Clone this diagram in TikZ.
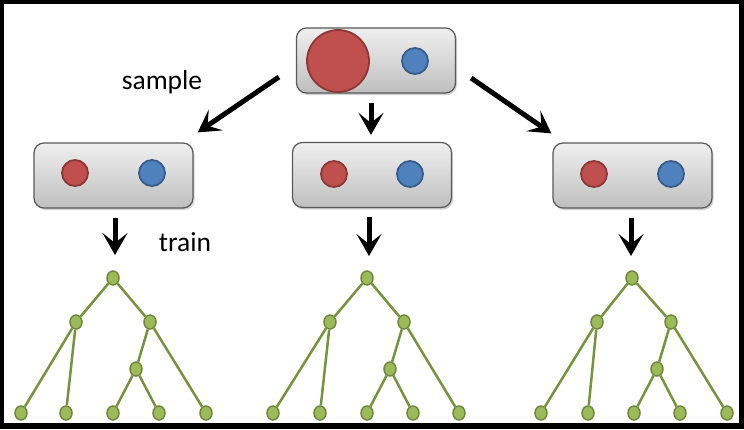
\documentclass[tikz,border=0pt]{standalone}
\usepackage{fontspec}
\setmainfont{Carlito}
\usepackage{tikz}
\usetikzlibrary{arrows.meta, shapes.geometric, shadows, calc}

\definecolor{redfill}{HTML}{C0504D}
\definecolor{redline}{HTML}{8C3836}
\definecolor{bluefill}{HTML}{4F81BD}
\definecolor{blueline}{HTML}{385D8A}
\definecolor{leaffill}{HTML}{9BBB59}
\definecolor{leafline}{HTML}{71893F}
\definecolor{branch}{HTML}{77933C}

\tikzset{
    setbox/.style={draw=black!65, line width=1.2pt, rounded corners=10pt,
        top color=black!6, bottom color=black!25,
        drop shadow={opacity=0.35, shadow xshift=1.5pt, shadow yshift=-2pt},
        minimum width=159pt, minimum height=65pt, inner sep=0pt},
    redball/.style={circle, fill=redfill, draw=redline, line width=1.8pt, minimum size=26pt, inner sep=0pt},
    blueball/.style={circle, fill=bluefill, draw=blueline, line width=1.8pt, minimum size=26pt, inner sep=0pt},
    bigarrow/.style={line width=5pt, -{Stealth[length=22pt, width=25pt, inset=10pt]}},
    leaf/.style={ellipse, fill=leaffill, draw=leafline, line width=1.5pt, minimum width=12pt, minimum height=14pt, inner sep=0pt},
    edge/.style={draw=branch, line width=2.5pt}
}

\begin{document}
\begin{tikzpicture}[x=1pt, y=-1pt]
    \useasboundingbox (0,0) rectangle (744,429);
    \fill[black] (0,0) rectangle (744,429);
    \fill[white] (4,4) rectangle (739,423);

    \fontsize{27.5}{33}\selectfont

    % the full set and its three samples
    \node[setbox] (top) at (376,60.5) {};
    \node[redball, minimum size=62pt] (topred) at (338,61) {};
    \node[blueball] (topblue) at (415,61) {};

    \node[setbox] (left) at (113.5,175.5) {};
    \node[redball] (leftred) at (75,173) {};
    \node[blueball] (leftblue) at (152,173) {};

    \node[setbox] (mid) at (372,175) {};
    \node[redball] (midred) at (334,174) {};
    \node[blueball] (midblue) at (410,174) {};

    \node[setbox] (right) at (632.5,175.5) {};
    \node[redball] (rightred) at (594,174) {};
    \node[blueball] (rightblue) at (671,174) {};

    \node[anchor=base] (sample) at (162,89) {sample};
    \node[anchor=base] (train) at (185,251) {train};

    % trees
    \node[leaf] (t1r) at (113,278) {};
    \node[leaf] (t1a) at (76,322) {};
    \node[leaf] (t1b) at (150,322) {};
    \node[leaf] (t1c) at (136,369) {};
    \node[leaf] (t1l1) at (21,413) {};
    \node[leaf] (t1l2) at (66,413) {};
    \node[leaf] (t1l3) at (113,413) {};
    \node[leaf] (t1l4) at (159,413) {};
    \node[leaf] (t1l5) at (206,413) {};

    \node[leaf] (t2r) at (367,278) {};
    \node[leaf] (t2a) at (330,322) {};
    \node[leaf] (t2b) at (404,322) {};
    \node[leaf] (t2c) at (390,369) {};
    \node[leaf] (t2l1) at (273,413) {};
    \node[leaf] (t2l2) at (320,413) {};
    \node[leaf] (t2l3) at (367,413) {};
    \node[leaf] (t2l4) at (413,413) {};
    \node[leaf] (t2l5) at (459,413) {};

    \node[leaf] (t3r) at (632,278) {};
    \node[leaf] (t3a) at (597,322) {};
    \node[leaf] (t3b) at (671,322) {};
    \node[leaf] (t3c) at (657,369) {};
    \node[leaf] (t3l1) at (541,413) {};
    \node[leaf] (t3l2) at (588,413) {};
    \node[leaf] (t3l3) at (634,413) {};
    \node[leaf] (t3l4) at (680,413) {};
    \node[leaf] (t3l5) at (727,413) {};

    \draw[edge] (t1a) -- (t1r) -- (t1b) -- (t1c) -- (t1l3);
    \draw[edge] (t1l1) -- (t1a) -- (t1l2);
    \draw[edge] (t1b) -- (t1l5);
    \draw[edge] (t1c) -- (t1l4);

    \draw[edge] (t2a) -- (t2r) -- (t2b) -- (t2c) -- (t2l3);
    \draw[edge] (t2l1) -- (t2a) -- (t2l2);
    \draw[edge] (t2b) -- (t2l5);
    \draw[edge] (t2c) -- (t2l4);

    \draw[edge] (t3a) -- (t3r) -- (t3b) -- (t3c) -- (t3l3);
    \draw[edge] (t3l1) -- (t3a) -- (t3l2);
    \draw[edge] (t3b) -- (t3l5);
    \draw[edge] (t3c) -- (t3l4);

    % arrows
    \draw[bigarrow] ($(top.west)+(-17,16.5)$) -- ($(left.north east)+(4,-10)$);
    \draw[bigarrow] ($(top.south)+(-5,9)$) -- ($(mid.north)+(-1,-7)$);
    \draw[bigarrow] ($(top.east)+(15,17.5)$) -- ($(right.north west)+(-1,-9)$);

    \draw[bigarrow] ($(left.south)+(1.5,9)$) -- ($(t1r)+(2,-23)$);
    \draw[bigarrow] ($(mid.south)+(-3,9)$) -- ($(t2r)+(2,-22)$);
    \draw[bigarrow] ($(right.south)+(-1.5,9)$) -- ($(t3r)+(-1,-22)$);

\end{tikzpicture}
\end{document}
